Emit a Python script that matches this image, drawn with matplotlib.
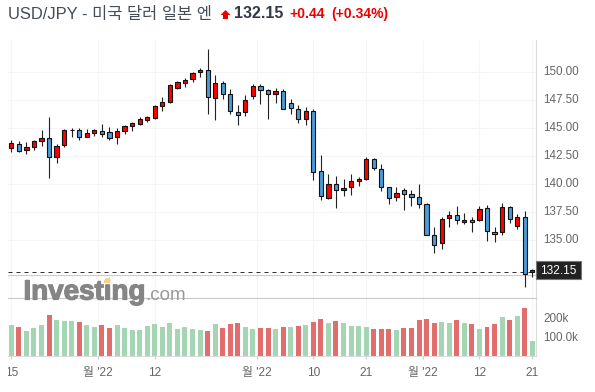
import matplotlib
matplotlib.use("Agg")
import matplotlib.pyplot as plt
import matplotlib.patheffects as pe
from matplotlib.patches import Rectangle, Polygon
from matplotlib.transforms import Bbox, ScaledTranslation

plt.rcParams['font.family'] = ['Liberation Sans', 'Noto Sans CJK KR', 'DejaVu Sans']

# OHLC, red candle = close above open
highs = [143.94, 143.82, 143.73, 143.94, 144.83, 145.97, 143.55, 144.92, 144.98, 144.98,
         144.92, 144.92, 145.34, 145.07, 144.98, 145.25, 145.52, 145.97, 146.06, 147.04,
         147.76, 148.92, 149.19, 149.46, 150.00, 150.35, 152.05, 149.73, 149.19, 148.47,
         147.04, 147.94, 148.92, 148.92, 148.47, 148.56, 148.47, 147.64, 147.04, 146.86,
         146.68, 142.57, 140.86, 140.68, 140.42, 140.86, 140.60, 142.39, 142.30, 141.76,
         139.76, 139.70, 139.61, 139.43, 139.97, 138.27, 136.12, 137.01, 137.55, 138.00,
         137.37, 137.01, 138.00, 138.09, 136.12, 138.27, 138.00, 137.28, 137.55, 132.42]
lows = [142.89, 142.89, 142.71, 143.07, 143.43, 140.51, 141.91, 143.34, 144.18, 143.97,
        144.18, 144.33, 144.24, 143.97, 143.61, 144.50, 144.77, 145.31, 145.52, 145.85,
        146.56, 147.22, 148.50, 148.71, 149.16, 149.61, 146.30, 145.70, 147.64, 146.30,
        145.25, 146.12, 147.64, 147.13, 145.79, 147.22, 146.68, 146.24, 145.43, 145.25,
        140.33, 138.57, 138.63, 137.82, 138.90, 138.98, 139.79, 140.33, 141.22, 139.34,
        138.18, 138.50, 137.64, 138.00, 137.82, 135.40, 133.79, 134.21, 136.12, 136.39,
        136.39, 135.73, 136.65, 134.86, 134.77, 135.40, 136.48, 135.94, 130.75, 131.64]
body_top = [143.64, 143.55, 143.28, 143.82, 144.09, 144.09, 143.37, 144.80, 144.86, 144.80,
            144.53, 144.80, 144.71, 144.62, 144.71, 145.16, 145.43, 145.79, 145.97, 146.95,
            147.31, 148.83, 149.10, 149.28, 149.91, 150.17, 150.17, 149.01, 149.01, 148.03,
            146.41, 147.49, 148.74, 148.74, 148.38, 148.29, 148.29, 147.22, 146.68, 146.50,
            146.50, 141.13, 139.97, 139.97, 139.61, 140.24, 140.42, 142.21, 142.21, 141.31,
            139.70, 139.16, 139.43, 139.07, 138.80, 138.18, 135.40, 136.83, 137.19, 137.19,
            136.74, 136.74, 137.73, 137.82, 135.67, 137.91, 137.91, 137.01, 137.01, 132.27]
body_bottom = [143.25, 142.98, 143.07, 143.34, 143.88, 142.45, 142.45, 143.52, 144.80, 144.24,
               144.24, 144.59, 144.50, 144.15, 144.24, 144.77, 145.22, 145.40, 145.76, 145.94,
               147.01, 147.31, 148.56, 149.07, 149.37, 150.00, 147.76, 147.67, 148.03, 146.50,
               146.21, 146.41, 147.85, 148.38, 148.03, 148.03, 146.68, 146.77, 145.79, 145.79,
               141.04, 138.90, 138.72, 139.43, 139.43, 139.70, 140.24, 140.42, 141.40, 139.70,
               138.71, 138.80, 139.07, 138.80, 138.18, 135.40, 134.51, 134.68, 136.92, 136.74,
               136.57, 136.57, 136.74, 135.76, 135.49, 135.67, 136.83, 136.21, 131.91, 132.09]
up = ("RBRRR" "BRRBB" "RRBBR" "RRRRR" "RRRRR" "RBRBB" "BRRBB"
      "RBBBR" "BBRBR" "RRRBB" "BRBBB" "BBRRB" "RBRBB" "RBRBR")

# volume in thousands, r / g colour per bar
volume = [167, 157, 135, 151, 167, 221, 194, 189, 189, 184, 167, 157, 167, 151, 167, 151, 140, 140, 162, 173,
          157, 178, 146, 157, 146, 140, 135, 173, 151, 173, 178, 157, 146, 151, 151, 146, 157, 157, 162, 167,
          184, 200, 178, 189, 178, 162, 162, 157, 146, 146, 146, 140, 151, 151, 194, 200, 178, 184, 178, 194,
          178, 173, 146, 157, 173, 211, 194, 216, 259, 81]
vol_colors = ("grggg" "rgggr" "ggrrg" "ggggg" "ggggg" "grgrr" "rggrr"
              "grgrg" "rrgrg" "gggrr" "rgrrr" "rrggr" "grgrr" "grgrg")

x_ticks = [0, 11.5, 19, 32.5, 40, 47, 54.5, 62, 69]
x_labels = ["15", "월 '22", "12", "월 '22", "10", "21", "월 '22", "12", "21"]
price_ticks = [135, 137.5, 140, 142.5, 145, 147.5, 150]
last_price = 132.15
prev_line = 131.83

W, H = 595, 392
fig = plt.figure(figsize=(W / 100, H / 100), dpi=100)


def box(x0, y0, x1, y1):
    return [x0 / W, 1 - y1 / H, (x1 - x0) / W, (y1 - y0) / H]


def fxy(x, y):
    return (x / W, 1 - y / H)


ax = fig.add_axes(box(8, 40, 536, 298.3))
ax2 = fig.add_axes(box(8, 298.3, 536, 356.3))
xlim = (-0.437, 69.49)
ax.set_xlim(xlim)
ax2.set_xlim(xlim)
ax.set_ylim(129.77, 152.89)
ax2.set_ylim(0, 313)

line_col = "#dcdcdc"
for a in (ax, ax2):
    for s in a.spines.values():
        s.set_visible(False)
    a.spines["right"].set_visible(True)
    a.spines["right"].set_color(line_col)
    a.yaxis.tick_right()
    a.set_xticks(x_ticks)
    a.set_axisbelow(True)
    a.grid(axis="x", color="#f5f5f5", lw=0.8)
    a.tick_params(axis="y", length=0, labelsize=8.4, labelcolor="#666666", pad=5.5)

# price panel
ax.set_yticks(price_ticks)
ax.set_yticklabels(["%.2f" % p for p in price_ticks])
ax.grid(axis="y", color="#f5f5f5", lw=0.8)
ax.tick_params(axis="x", length=0, labelbottom=False)

for i in range(len(up)):
    col = "#ff0000" if up[i] == "R" else "#4a9bd6"
    ax.plot([i, i], [lows[i], highs[i]], color="#222222", lw=0.8, solid_capstyle="butt", zorder=2)
    ax.bar(i, body_top[i] - body_bottom[i], bottom=body_bottom[i], width=0.56,
           facecolor=col, edgecolor="#111111", linewidth=0.8, zorder=3)

ax.axhline(prev_line, color="#f6b8b8", lw=0.8, zorder=1)
ax.axhline(last_price, color="#333333", lw=0.72, dashes=(4, 4), zorder=1)

# volume panel
ax2.bar(range(len(volume)), volume, width=0.66,
        color=["#e26d6d" if c == "r" else "#a5d6b4" for c in vol_colors], zorder=2)
ax2.set_yticks([100, 200])
ax2.set_yticklabels(["100.0k", "200k"])
ax2.spines["top"].set_visible(True)
ax2.spines["top"].set_color("#c8c8c8")
ax2.spines["bottom"].set_visible(True)
ax2.spines["bottom"].set_color(line_col)
ax2.set_xticklabels(x_labels)
ax2.tick_params(axis="x", length=2.5, color="#cccccc", labelsize=8.6, labelcolor="#666666", pad=5.5)
fig.canvas.draw()
ax2.get_xticklabels()[0].set_clip_box(Bbox([[8, 0], [40, 100]]))
ax2.get_xticklabels()[0].set_clip_on(True)

# right labels sit a bit above their grid lines
up_shift = ScaledTranslation(0, 1.0 / 72, fig.dpi_scale_trans)
for a in (ax, ax2):
    for lab in a.get_yticklabels():
        lab.set_transform(lab.get_transform() + up_shift)

# last price tag
fig.add_artist(Rectangle(fxy(536, 279), 44.7 / W, 18 / H, transform=fig.transFigure,
                         facecolor="#222222", edgecolor="#777777", lw=0.8))
fig.text(558.5 / W, 1 - 270.5 / H, "%.2f" % last_price, color="white", fontsize=8.6,
         ha="center", va="center")

# header
fig.text(8 / W, 1 - 14 / H, "USD/JPY - 미국 달러 일본 엔", fontsize=11.85, color="#444c55", va="center")
arrow_pts = [(225.5, 10), (230.5, 15), (228, 15), (228, 19), (223, 19), (223, 15), (220.5, 15)]
fig.add_artist(Polygon([fxy(x, y) for x, y in arrow_pts], closed=True, transform=fig.transFigure,
                       facecolor="#ee0000", edgecolor="none"))
fig.text(234 / W, 1 - 14 / H, "132.15", fontsize=11.5, color="#333a42", va="center", fontweight="bold")
fig.text(289 / W, 1 - 14 / H, "+0.44", fontsize=10, color="#ee0000", va="center", fontweight="bold")
fig.text(331 / W, 1 - 14 / H, "(+0.34%)", fontsize=10, color="#ee0000", va="center", fontweight="bold")

# watermark
fig.text(23.5 / W, 1 - 299.5 / H, "Investing", fontsize=20, color="#858585", fontweight="bold",
         va="baseline", zorder=5,
         path_effects=[pe.withStroke(linewidth=0.9, foreground="#858585")])
fig.text(145 / W, 1 - 299.5 / H, ".com", fontsize=13.5, color="#999999", va="baseline", zorder=5)
fig.add_artist(Polygon([fxy(x, y) for x, y in [(104, 280), (110, 277), (110, 283), (104, 283)]], closed=True,
                       transform=fig.transFigure, facecolor="#fbd27f", edgecolor="none", zorder=6))

fig.savefig("out.png", dpi=100)
